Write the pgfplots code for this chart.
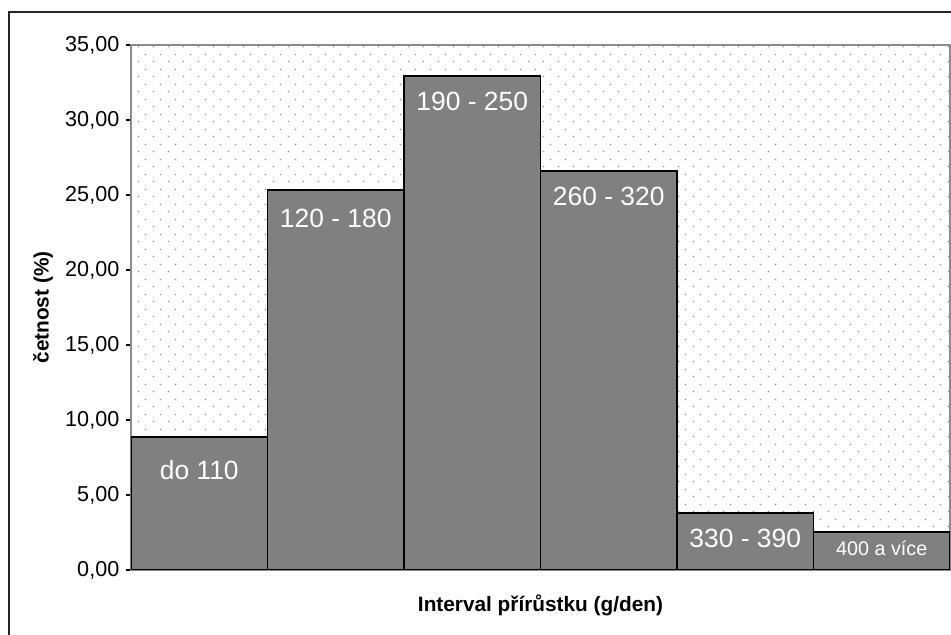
\documentclass[border=0pt]{standalone}
\usepackage{pgfplots}
\pgfplotsset{compat=1.18}
\usepackage{fontspec}
\setmainfont{Liberation Sans}
\usetikzlibrary{patterns.meta}

\definecolor{barfill}{HTML}{808080}

% sparse offset dots for the plot area background
\tikzdeclarepattern{
  name=xlsdots,
  type=uncolored,
  bottom left={(0pt,0pt)},
  top right={(11.25pt,11.25pt)},
  tile size={(11.25pt,11.25pt)},
  code={
    \pgfpathcircle{\pgfqpoint{2.8pt}{2.8pt}}{0.7pt}
    \pgfpathcircle{\pgfqpoint{8.425pt}{8.425pt}}{0.7pt}
    \pgfusepath{fill}
  }
}

\pgfplotsset{
  bar/.style={fill=barfill, draw=black, line width=1.1pt},
  % #1 = how far the label centre sits below the bar top, #2 = font size
  lab/.style 2 args={nodes near coords style={text=white, anchor=center,
      yshift=-#1, font=\fontsize{#2}{#2}\selectfont}},
}

\begin{document}
\begin{tikzpicture}
\useasboundingbox (0,0) rectangle (713.25pt,476.25pt);
\draw[black!85, line width=1.1pt] (6.75pt,-1pt) -- (6.75pt,467.25pt) -- (714pt,467.25pt);

\begin{axis}[
    at={(98.25pt,48.75pt)}, anchor=south west,
    scale only axis,
    width=614.25pt, height=393.75pt,
    xmin=0, xmax=6,
    ymin=0, ymax=35,
    xtick=\empty,
    ytick={0,5,...,35},
    ytick pos=left,
    tick align=outside,
    major tick length=3.75pt,
    tick style={black, line width=0.8pt},
    axis line style={draw=black!45, line width=1pt},
    axis background/.style={pattern=xlsdots, pattern color=black!42},
    /pgf/number format/fixed,
    /pgf/number format/fixed zerofill,
    /pgf/number format/precision=2,
    /pgf/number format/use comma,
    /pgf/number format/assume math mode=true,
    yticklabel style={font=\fontsize{16.2}{19}\selectfont, xshift=-1.5pt},
    xlabel={Interval přírůstku (g/den)},
    ylabel={četnost (\%)},
    xlabel style={font=\fontsize{15.6}{18}\selectfont\bfseries,
        at={(axis description cs:0.5,-0.0667)}, anchor=center},
    ylabel style={font=\fontsize{15.6}{18}\selectfont\bfseries,
        at={(axis description cs:-0.1074,0.5)}, anchor=center},
    ybar, bar width=1, bar shift=0pt,
    point meta=explicit symbolic,
    nodes near coords,
]
\addplot[bar, lab={24.75pt}{19.8}] coordinates {(0.5,8.87) [do 110]};
\addplot[bar, lab={21pt}{19.8}] coordinates {(1.5,25.33) [120 - 180]};
\addplot[bar, lab={18.75pt}{19.8}] coordinates {
    (2.5,32.93) [190 - 250]
    (3.5,26.60) [260 - 320]
    (4.5,3.80) [330 - 390]
};
\addplot[bar, lab={12pt}{14.8}] coordinates {(5.5,2.53) [400 a více]};
\end{axis}
\end{tikzpicture}
\end{document}
